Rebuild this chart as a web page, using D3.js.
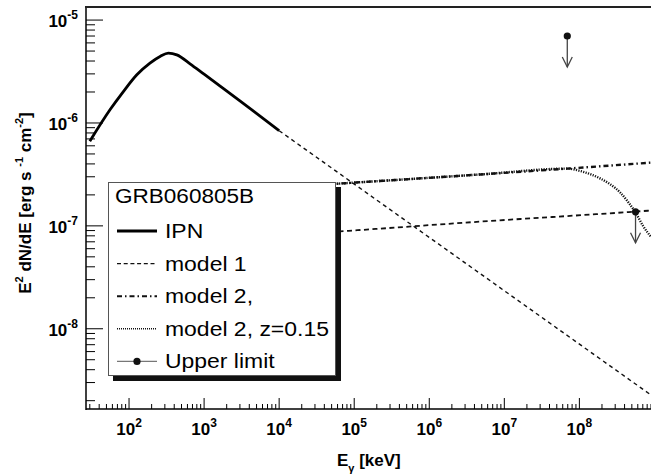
<!DOCTYPE html>
<html>
<head>
<meta charset="utf-8">
<script src="https://cdn.jsdelivr.net/npm/d3@7"></script>
<style>
  body { margin: 0; background: #fff; }
  svg text { font-family: "Liberation Sans", Arial, Helvetica, sans-serif; }
</style>
</head>
<body>
<div id="chart"></div>
<script>
// values (E in keV, E^2 dN/dE in erg s-1 cm-2)
const ipnE = [30, 56, 84, 127, 190, 259, 334, 433, 650, 1000, 3000, 10000]
const ipnF = [6.64e-7, 1.35e-6, 2.02e-6, 2.94e-6, 3.82e-6, 4.43e-6, 4.77e-6, 4.59e-6, 3.76e-6, 2.98e-6, 1.64e-6, 8.41e-7]

// model 1: extrapolation of the band spectrum + second component
const model1ExtE = [1e4, 9e8]
const model1ExtF = [8.41e-7, 2.27e-9]
const model1E = [1e4, 6.5e4, 4.8e6, 5.9e8, 9e8]
const model1F = [8.05e-8, 8.83e-8, 1.10e-7, 1.38e-7, 1.41e-7]

// model 2
const model2E = [1e4, 6.5e4, 4.8e6, 6.9e7, 9e8]
const model2F = [2.37e-7, 2.58e-7, 3.16e-7, 3.6e-7, 4.12e-7]

// model 2 with EBL absorption, z=0.15
const model2zE = [1e4, 6.5e4, 4.8e6, 6.9e7, 1.03e8, 1.40e8, 1.91e8, 2.6e8, 3.5e8, 4.5e8, 5.6e8, 7.1e8, 8.9e8]
const model2zF = [2.37e-7, 2.58e-7, 3.16e-7, 3.6e-7, 3.41e-7, 3.18e-7, 2.88e-7, 2.52e-7, 2.11e-7, 1.69e-7, 1.35e-7, 9.9e-8, 7.9e-8]

// upper limits
const ulE = [6.9e7, 5.6e8]
const ulF = [7.0e-6, 1.37e-7]

const xMajor = [2, 3, 4, 5, 6, 7, 8]
const yMajor = [-5, -6, -7, -8]

const legendTitle = "GRB060805B"
const legendLabels = ["IPN", "model 1", "model 2,", "model 2, z=0.15", "Upper limit"]

function drawChart() {
    let width = 651
    let height = 475

    let svg = d3.select("#chart").append("svg")
        .attr("width", width)
        .attr("height", height)

    let x = d3.scaleLog().domain([26.7, 9e8]).range([86, 651])
    let y = d3.scaleLog().domain([1.66e-9, 1.34e-5]).range([409, 7])

    const zip = (a, b) => a.map((v, i) => [v, b[i]])
    let line = d3.line()
        .x(d => x(d[0]))
        .y(d => y(d[1]))
        .curve(d3.curveMonotoneX)

    svg.append("clipPath").attr("id", "plotClip")
        .append("rect")
        .attr("x", 86).attr("y", 7)
        .attr("width", 651 - 86).attr("height", 409 - 7)

    // ticks
    let xt = x.ticks().filter(v => v >= x.domain()[0] && v <= x.domain()[1])
    let yt = y.ticks().filter(v => v >= y.domain()[0] && v <= y.domain()[1])
    const isMajor = v => Math.abs(Math.log10(v) - Math.round(Math.log10(v))) < 1e-6

    let axes = svg.append("g").attr("stroke", "#000").attr("stroke-width", 1)

    axes.selectAll(".xtick").data(xt).join("line")
        .attr("x1", d => x(d)).attr("x2", d => x(d))
        .attr("y1", 409)
        .attr("y2", d => isMajor(d) ? 398 : 404)

    axes.selectAll(".ytick").data(yt).join("line")
        .attr("y1", d => y(d)).attr("y2", d => y(d))
        .attr("x1", 86)
        .attr("x2", d => isMajor(d) ? 103 : 95)

    // frame
    svg.append("line").attr("x1", 86).attr("x2", 651).attr("y1", 409).attr("y2", 409)
        .attr("stroke", "#000").attr("stroke-width", 1.5)
    svg.append("line").attr("x1", 86).attr("x2", 86).attr("y1", 6).attr("y2", 410)
        .attr("stroke", "#000").attr("stroke-width", 1.5)
    svg.append("line").attr("x1", 85).attr("x2", 651).attr("y1", 7).attr("y2", 7)
        .attr("stroke", "#222").attr("stroke-width", 2)

    // tick labels
    let xl = svg.append("g").attr("font-weight", "bold").attr("font-size", 17)
        .selectAll("text").data(xMajor).join("text")
        .attr("x", d => x(Math.pow(10, d)))
        .attr("y", 435)
        .attr("text-anchor", "middle")
    xl.append("tspan").text("10")
    xl.append("tspan").attr("font-size", 12).attr("dy", -8).text(d => d)

    let yl = svg.append("g").attr("font-weight", "bold").attr("font-size", 17)
        .selectAll("text").data(yMajor).join("text")
        .attr("x", 78)
        .attr("y", d => y(Math.pow(10, d)) + 7)
        .attr("text-anchor", "end")
    yl.append("tspan").text("10")
    yl.append("tspan").attr("font-size", 12).attr("dy", -8).text(d => d)

    // axis titles
    let xTitle = svg.append("text")
        .attr("x", 337).attr("y", 466)
        .attr("font-weight", "bold").attr("font-size", 17)
    xTitle.append("tspan").text("E")
    xTitle.append("tspan").attr("font-size", 11).attr("dy", 6).text("γ")
    xTitle.append("tspan").attr("dy", -6).text(" [keV]")

    let yTitle = svg.append("text")
        .attr("transform", "translate(31,203) rotate(-90)")
        .attr("text-anchor", "middle")
        .attr("font-weight", "bold").attr("font-size", 17)
    yTitle.append("tspan").text("E")
    yTitle.append("tspan").attr("font-size", 11).attr("dy", -8).text("2")
    yTitle.append("tspan").attr("dy", 8).text(" dN/dE [erg s ")
    yTitle.append("tspan").attr("font-size", 11).attr("dy", -8).text("-1")
    yTitle.append("tspan").attr("dy", 8).text(" cm")
    yTitle.append("tspan").attr("font-size", 11).attr("dy", -8).text("-2")
    yTitle.append("tspan").attr("dy", 8).text("]")

    // curves
    let plot = svg.append("g").attr("clip-path", "url(#plotClip)").attr("fill", "none")

    plot.append("path").attr("d", line(zip(model1ExtE, model1ExtF)))
        .attr("stroke", "#111").attr("stroke-width", 1.4).attr("stroke-dasharray", "4,3.5")
    plot.append("path").attr("d", line(zip(model1E, model1F)))
        .attr("stroke", "#111").attr("stroke-width", 1.8).attr("stroke-dasharray", "5,3.5")
    plot.append("path").attr("d", line(zip(model2E, model2F)))
        .attr("stroke", "#111").attr("stroke-width", 2.4).attr("stroke-dasharray", "5,3,1.5,3")
    plot.append("path").attr("d", line(zip(model2zE, model2zF)))
        .attr("stroke", "#111").attr("stroke-width", 2.4).attr("stroke-dasharray", "1.2,1.3")
    plot.append("path").attr("d", line(zip(ipnE, ipnF)))
        .attr("stroke", "#000").attr("stroke-width", 2.8).attr("stroke-linejoin", "round")

    // upper limits
    let ul = plot.selectAll(".ul").data(zip(ulE, ulF)).join("g")
    ul.append("line")
        .attr("x1", d => x(d[0])).attr("x2", d => x(d[0]))
        .attr("y1", d => y(d[1])).attr("y2", d => y(d[1] * 0.5))
        .attr("stroke", "#444").attr("stroke-width", 1.3)
    ul.append("polyline")
        .attr("points", d => {
            let cx = x(d[0]), ty = y(d[1] * 0.5)
            return [[cx - 5, ty - 10], [cx, ty], [cx + 5, ty - 10]].join(" ")
        })
        .attr("stroke", "#444").attr("stroke-width", 1.3)
    ul.append("circle")
        .attr("cx", d => x(d[0])).attr("cy", d => y(d[1]))
        .attr("r", 3.6).attr("fill", "#111")

    // legend
    let legend = svg.append("g")
    legend.append("rect").attr("x", 113).attr("y", 187).attr("width", 228).attr("height", 194)
        .attr("fill", "#111")
    legend.append("rect").attr("x", 108.5).attr("y", 182.5).attr("width", 227).attr("height", 193)
        .attr("fill", "#fff").attr("stroke", "#555").attr("stroke-width", 1)

    legend.append("g").attr("transform", "translate(115,203) scale(1.1,1)")
        .append("text").attr("font-size", 20.5).text(legendTitle)

    let styles = [
        { w: 2.8, dash: null, c: "#000" },
        { w: 1.4, dash: "4,2.7", c: "#111" },
        { w: 2, dash: "5,3,1.5,3", c: "#111" },
        { w: 1.6, dash: "1,1", c: "#111" },
        { w: 1.3, dash: null, c: "#777" }
    ]

    let rows = legend.selectAll(".row").data(legendLabels).join("g")
        .attr("transform", (d, i) => `translate(0,${231 + i * 32.6})`)
    rows.append("line")
        .attr("x1", 117).attr("x2", 157).attr("y1", 0).attr("y2", 0)
        .attr("stroke", (d, i) => styles[i].c)
        .attr("stroke-width", (d, i) => styles[i].w)
        .attr("stroke-dasharray", (d, i) => styles[i].dash)
    rows.filter((d, i) => i == 4).append("circle")
        .attr("cx", 137).attr("cy", 0).attr("r", 3.6).attr("fill", "#111")
    rows.append("g").attr("transform", "translate(165,7) scale(1.12,1)")
        .append("text").attr("font-size", 20.5).text(d => d)
}

drawChart()
</script>
</body>
</html>
